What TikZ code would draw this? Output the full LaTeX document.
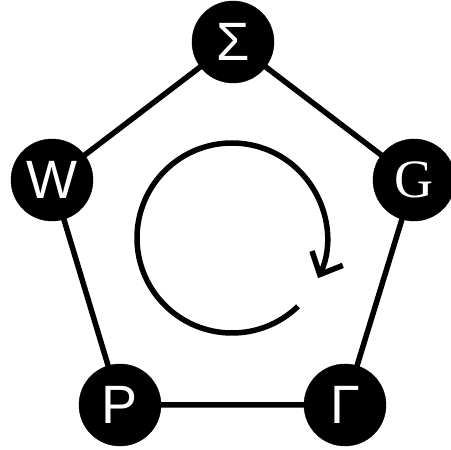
\documentclass[tikz,border=0pt]{standalone}
\usepackage{fontspec}
\setmainfont{Liberation Sans}
\newfontfamily\gfont{Liberation Serif}
\usetikzlibrary{arrows.meta,backgrounds}
\begin{document}
\begin{tikzpicture}[x=1pt,y=1pt,
  vtx/.style={circle,fill=black,draw=black,minimum size=82pt,inner sep=0pt,text=white,font=\fontsize{54}{54}\selectfont},
  serifvtx/.style={vtx,font=\fontsize{54}{54}\selectfont\gfont},
  edge/.style={line width=5.5pt}]
\useasboundingbox (0,0) rectangle (451,450);
\coordinate (c) at (232,212);
\node[vtx] (s) at (233,408) {Σ};
\node[vtx] (w) at (52,270) {W};
\node[serifvtx] (g) at (414,270) {G};
\node[vtx] (p) at (120,45) {P};
\node[vtx] (gm) at (345,45) {Γ};
\begin{scope}[on background layer]
\draw[edge] (s.center) -- (g.center) -- (gm.center) -- (p.center) -- (w.center) -- cycle;
\end{scope}
\draw[line width=5.5pt,-{Straight Barb[length=18pt,width=34pt]}] ([shift={(-46:95)}]c) arc[start angle=-46,end angle=-385,radius=95];
\end{tikzpicture}
\end{document}
